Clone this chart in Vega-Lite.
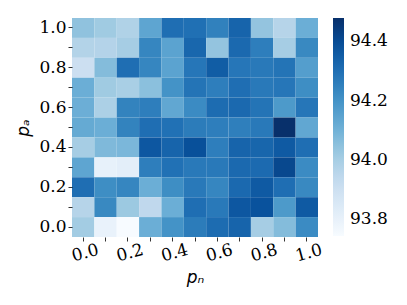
{
  "$schema": "https://vega.github.io/schema/vega-lite/v6.json",
  "width": 246,
  "height": 219,
  "autosize": {"type": "none"},
  "padding": {"left": 72, "top": 18, "right": 89, "bottom": 68},
  "background": "white",
  "datasets": {
    "grid": [
      {"pa": 1.0, "pn": 0.0, "v": 94.045}, {"pa": 1.0, "pn": 0.1, "v": 94.016}, {"pa": 1.0, "pn": 0.2, "v": 93.979}, {"pa": 1.0, "pn": 0.3, "v": 94.141}, {"pa": 1.0, "pn": 0.4, "v": 94.303}, {"pa": 1.0, "pn": 0.5, "v": 94.298}, {"pa": 1.0, "pn": 0.6, "v": 94.251}, {"pa": 1.0, "pn": 0.7, "v": 94.332}, {"pa": 1.0, "pn": 0.8, "v": 94.038}, {"pa": 1.0, "pn": 0.9, "v": 93.965}, {"pa": 1.0, "pn": 1.0, "v": 94.112},
      {"pa": 0.9, "pn": 0.0, "v": 93.972}, {"pa": 0.9, "pn": 0.1, "v": 93.970}, {"pa": 0.9, "pn": 0.2, "v": 94.001}, {"pa": 0.9, "pn": 0.3, "v": 94.236}, {"pa": 0.9, "pn": 0.4, "v": 94.148}, {"pa": 0.9, "pn": 0.5, "v": 94.325}, {"pa": 0.9, "pn": 0.6, "v": 94.038}, {"pa": 0.9, "pn": 0.7, "v": 94.317}, {"pa": 0.9, "pn": 0.8, "v": 94.259}, {"pa": 0.9, "pn": 0.9, "v": 94.001}, {"pa": 0.9, "pn": 1.0, "v": 94.229},
      {"pa": 0.8, "pn": 0.0, "v": 93.906}, {"pa": 0.8, "pn": 0.1, "v": 94.067}, {"pa": 0.8, "pn": 0.2, "v": 94.303}, {"pa": 0.8, "pn": 0.3, "v": 94.236}, {"pa": 0.8, "pn": 0.4, "v": 94.148}, {"pa": 0.8, "pn": 0.5, "v": 94.281}, {"pa": 0.8, "pn": 0.6, "v": 94.354}, {"pa": 0.8, "pn": 0.7, "v": 94.281}, {"pa": 0.8, "pn": 0.8, "v": 94.273}, {"pa": 0.8, "pn": 0.9, "v": 94.288}, {"pa": 0.8, "pn": 1.0, "v": 94.163},
      {"pa": 0.7, "pn": 0.0, "v": 94.112}, {"pa": 0.7, "pn": 0.1, "v": 94.016}, {"pa": 0.7, "pn": 0.2, "v": 93.994}, {"pa": 0.7, "pn": 0.3, "v": 94.053}, {"pa": 0.7, "pn": 0.4, "v": 94.200}, {"pa": 0.7, "pn": 0.5, "v": 94.288}, {"pa": 0.7, "pn": 0.6, "v": 94.259}, {"pa": 0.7, "pn": 0.7, "v": 94.303}, {"pa": 0.7, "pn": 0.8, "v": 94.273}, {"pa": 0.7, "pn": 0.9, "v": 94.281}, {"pa": 0.7, "pn": 1.0, "v": 94.214},
      {"pa": 0.6, "pn": 0.0, "v": 94.110}, {"pa": 0.6, "pn": 0.1, "v": 93.987}, {"pa": 0.6, "pn": 0.2, "v": 94.244}, {"pa": 0.6, "pn": 0.3, "v": 94.259}, {"pa": 0.6, "pn": 0.4, "v": 94.134}, {"pa": 0.6, "pn": 0.5, "v": 94.222}, {"pa": 0.6, "pn": 0.6, "v": 94.310}, {"pa": 0.6, "pn": 0.7, "v": 94.317}, {"pa": 0.6, "pn": 0.8, "v": 94.288}, {"pa": 0.6, "pn": 0.9, "v": 94.178}, {"pa": 0.6, "pn": 1.0, "v": 94.281},
      {"pa": 0.5, "pn": 0.0, "v": 94.126}, {"pa": 0.5, "pn": 0.1, "v": 94.112}, {"pa": 0.5, "pn": 0.2, "v": 94.244}, {"pa": 0.5, "pn": 0.3, "v": 94.303}, {"pa": 0.5, "pn": 0.4, "v": 94.295}, {"pa": 0.5, "pn": 0.5, "v": 94.266}, {"pa": 0.5, "pn": 0.6, "v": 94.259}, {"pa": 0.5, "pn": 0.7, "v": 94.255}, {"pa": 0.5, "pn": 0.8, "v": 94.273}, {"pa": 0.5, "pn": 0.9, "v": 94.479}, {"pa": 0.5, "pn": 1.0, "v": 94.134},
      {"pa": 0.4, "pn": 0.0, "v": 94.001}, {"pa": 0.4, "pn": 0.1, "v": 94.075}, {"pa": 0.4, "pn": 0.2, "v": 94.082}, {"pa": 0.4, "pn": 0.3, "v": 94.369}, {"pa": 0.4, "pn": 0.4, "v": 94.332}, {"pa": 0.4, "pn": 0.5, "v": 94.391}, {"pa": 0.4, "pn": 0.6, "v": 94.259}, {"pa": 0.4, "pn": 0.7, "v": 94.332}, {"pa": 0.4, "pn": 0.8, "v": 94.328}, {"pa": 0.4, "pn": 0.9, "v": 94.361}, {"pa": 0.4, "pn": 1.0, "v": 94.303},
      {"pa": 0.3, "pn": 0.0, "v": 94.141}, {"pa": 0.3, "pn": 0.1, "v": 93.803}, {"pa": 0.3, "pn": 0.2, "v": 93.818}, {"pa": 0.3, "pn": 0.3, "v": 94.259}, {"pa": 0.3, "pn": 0.4, "v": 94.295}, {"pa": 0.3, "pn": 0.5, "v": 94.273}, {"pa": 0.3, "pn": 0.6, "v": 94.273}, {"pa": 0.3, "pn": 0.7, "v": 94.317}, {"pa": 0.3, "pn": 0.8, "v": 94.315}, {"pa": 0.3, "pn": 0.9, "v": 94.413}, {"pa": 0.3, "pn": 1.0, "v": 94.222},
      {"pa": 0.2, "pn": 0.0, "v": 94.303}, {"pa": 0.2, "pn": 0.1, "v": 94.214}, {"pa": 0.2, "pn": 0.2, "v": 94.236}, {"pa": 0.2, "pn": 0.3, "v": 94.112}, {"pa": 0.2, "pn": 0.4, "v": 94.214}, {"pa": 0.2, "pn": 0.5, "v": 94.273}, {"pa": 0.2, "pn": 0.6, "v": 94.236}, {"pa": 0.2, "pn": 0.7, "v": 94.317}, {"pa": 0.2, "pn": 0.8, "v": 94.361}, {"pa": 0.2, "pn": 0.9, "v": 94.303}, {"pa": 0.2, "pn": 1.0, "v": 94.229},
      {"pa": 0.1, "pn": 0.0, "v": 93.965}, {"pa": 0.1, "pn": 0.1, "v": 94.229}, {"pa": 0.1, "pn": 0.2, "v": 94.023}, {"pa": 0.1, "pn": 0.3, "v": 93.942}, {"pa": 0.1, "pn": 0.4, "v": 94.112}, {"pa": 0.1, "pn": 0.5, "v": 94.303}, {"pa": 0.1, "pn": 0.6, "v": 94.273}, {"pa": 0.1, "pn": 0.7, "v": 94.369}, {"pa": 0.1, "pn": 0.8, "v": 94.383}, {"pa": 0.1, "pn": 0.9, "v": 94.178}, {"pa": 0.1, "pn": 1.0, "v": 94.361},
      {"pa": 0.0, "pn": 0.0, "v": 94.009}, {"pa": 0.0, "pn": 0.1, "v": 93.795}, {"pa": 0.0, "pn": 0.2, "v": 93.744}, {"pa": 0.0, "pn": 0.3, "v": 94.112}, {"pa": 0.0, "pn": 0.4, "v": 94.200}, {"pa": 0.0, "pn": 0.5, "v": 94.266}, {"pa": 0.0, "pn": 0.6, "v": 94.310}, {"pa": 0.0, "pn": 0.7, "v": 94.332}, {"pa": 0.0, "pn": 0.8, "v": 94.001}, {"pa": 0.0, "pn": 0.9, "v": 94.067}, {"pa": 0.0, "pn": 1.0, "v": 94.222}
    ]
  },
  "data": {"name": "grid"},
  "mark": {"type": "rect", "strokeWidth": 0},
  "encoding": {
    "x": {
      "field": "pn", "type": "ordinal", "sort": "ascending",
      "scale": {"paddingInner": 0, "paddingOuter": 0},
      "axis": {
        "title": "pₙ", "titleFont": "DejaVu Sans", "titleFontStyle": "italic", "titleFontWeight": "normal", "titleFontSize": 17, "titleColor": "black", "titlePadding": 6,
        "format": ".1f", "labelExpr": "round(datum.value*10)%2==0 ? datum.label : ''",
        "labelFont": "DejaVu Serif", "labelFontSize": 17, "labelColor": "black", "labelAngle": -15, "labelAlign": "center", "labelBaseline": "top", "labelPadding": 4,
        "domain": false, "ticks": true, "tickSize": 4, "tickWidth": 0.8, "tickColor": "black", "grid": false
      }
    },
    "y": {
      "field": "pa", "type": "ordinal", "sort": "descending",
      "scale": {"paddingInner": 0, "paddingOuter": 0},
      "axis": {
        "title": "pₐ", "titleFont": "DejaVu Sans", "titleFontStyle": "italic", "titleFontWeight": "normal", "titleFontSize": 17, "titleColor": "black", "titlePadding": 6,
        "format": ".1f", "labelExpr": "round(datum.value*10)%2==0 ? datum.label : ''",
        "labelFont": "DejaVu Serif", "labelFontSize": 17, "labelColor": "black", "labelPadding": 2, "labelBaseline": "middle",
        "domain": false, "ticks": true, "tickSize": 4, "tickWidth": 0.8, "tickColor": "black", "grid": false
      }
    },
    "color": {
      "field": "v", "type": "quantitative",
      "scale": {
        "domain": [93.744, 93.835875, 93.92775, 94.019625, 94.1115, 94.203375, 94.29525, 94.387125, 94.479],
        "range": ["#f7fbff", "#deebf7", "#c6dbef", "#9ecae1", "#6baed6", "#4292c6", "#2171b5", "#08519c", "#08306b"],
        "interpolate": "rgb"
      },
      "legend": {
        "title": null, "orient": "right", "offset": 15, "padding": 0,
        "gradientLength": 218, "gradientThickness": 11, "gradientStrokeWidth": 0,
        "values": [93.8, 94.0, 94.2, 94.4], "format": ".1f",
        "labelFont": "DejaVu Serif", "labelFontSize": 17, "labelColor": "black", "labelOffset": 6
      }
    }
  },
  "config": {"view": {"stroke": null}}
}
